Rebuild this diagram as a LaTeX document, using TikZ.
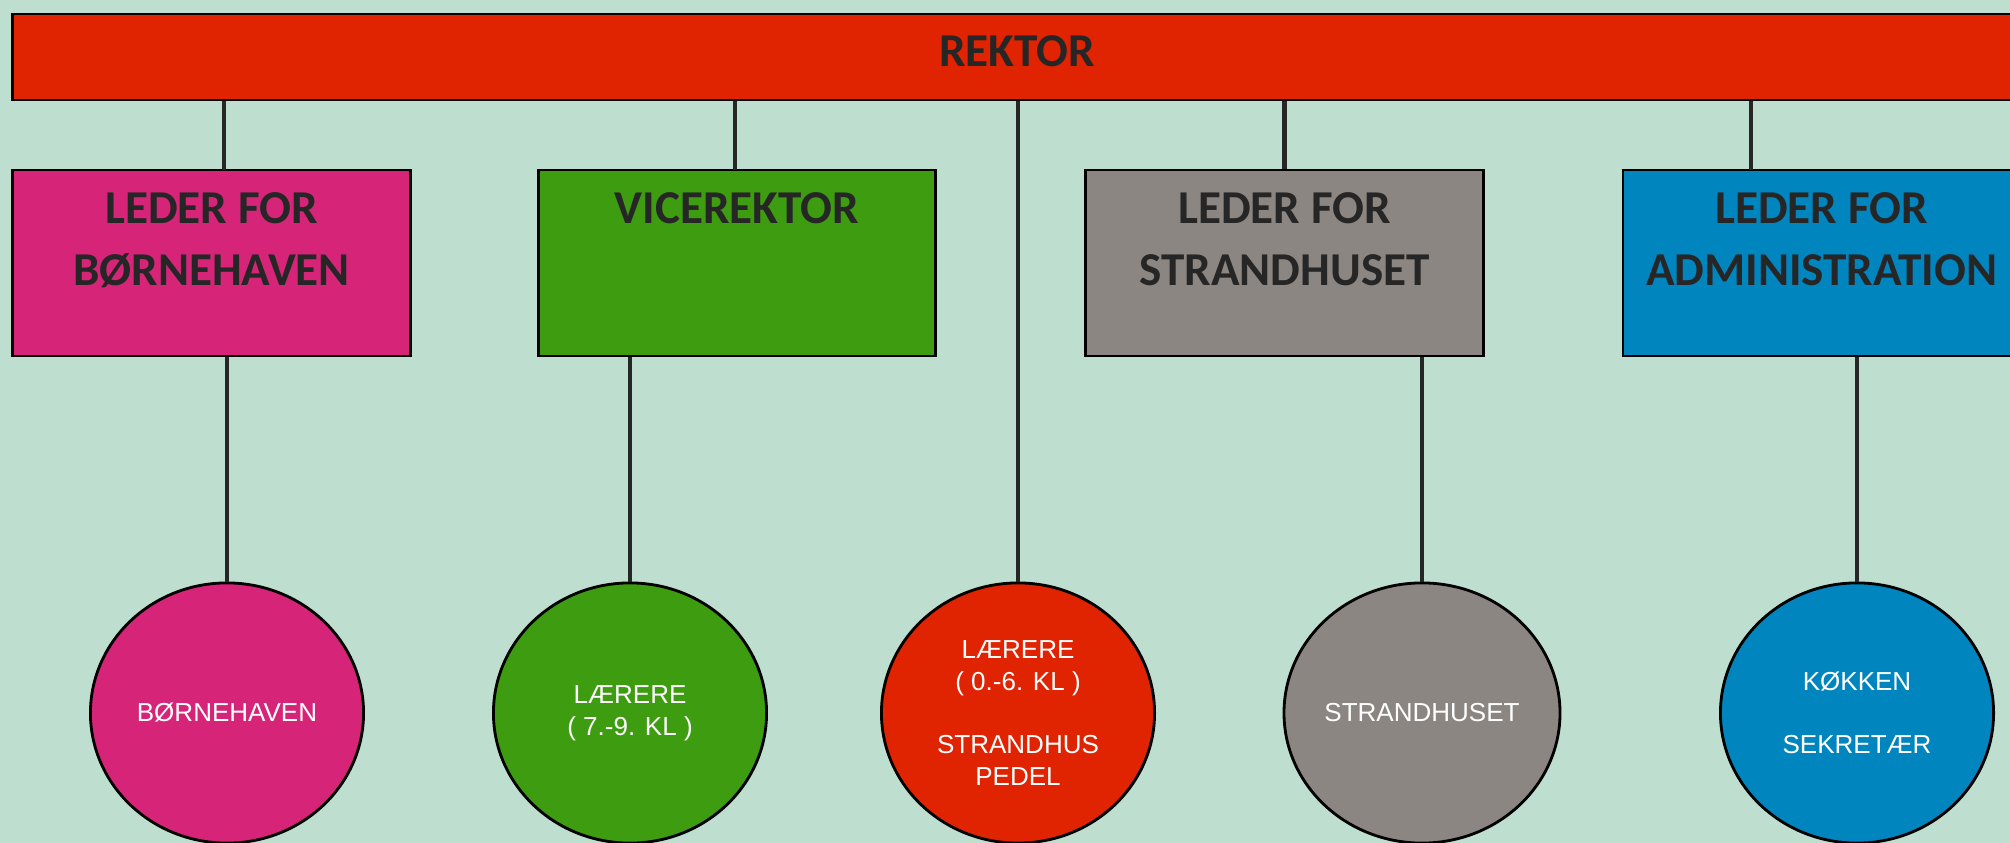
\documentclass[tikz,border=0pt]{standalone}
\usepackage{fontspec}
\setmainfont{Liberation Sans}
\newfontfamily\titlefont{Carlito}
\usetikzlibrary{shapes.geometric}

\definecolor{bgmint}{HTML}{BEDFD0}
\definecolor{rektorred}{HTML}{E02300}
\definecolor{bhpink}{HTML}{D62579}
\definecolor{vicegreen}{HTML}{3E9C10}
\definecolor{strandgray}{HTML}{8B8681}
\definecolor{adminblue}{HTML}{0085BF}
\definecolor{darktext}{HTML}{262626}

\begin{document}
\begin{tikzpicture}[x=0.01cm,y=-0.01cm]
   \tikzstyle{title}=[font=\titlefont\bfseries\fontsize{13.4}{17.6}\selectfont, text=darktext, align=center, inner sep=0pt]
   \tikzstyle{leader}=[draw=black, line width=0.8pt, minimum width=3.97cm, minimum height=1.86cm, inner sep=0pt]
   \tikzstyle{unit}=[draw=black, line width=0.8pt, ellipse, minimum width=2.73cm, minimum height=2.6cm, inner sep=0pt, text=white, font=\fontsize{7.4}{9}\selectfont, align=center]
   \tikzstyle{link}=[draw=darktext, line width=1.4pt]

\useasboundingbox (0,0) rectangle (2010,843);
\fill[bgmint] (0,0) rectangle (2010,843);
\clip (0,0) rectangle (2010,843);

% top bar
\node[draw=black, line width=0.8pt, fill=rektorred, minimum width=20.08cm, minimum height=0.86cm] (rektor) at (1017,57) {};
\node[title] (rektortxt) at (1017,51) {REKTOR};

% leaders
\node[leader, fill=bhpink] (bhbox) at (211.5,263) {};
\node[leader, fill=vicegreen] (vicebox) at (737,263) {};
\node[leader, fill=strandgray] (strandbox) at (1284.5,263) {};
\node[leader, fill=adminblue] (adminbox) at (1821.5,263) {};

\node[title, anchor=north] (bhtitle) at ([yshift=-6.6pt]bhbox.north) {LEDER FOR\\BØRNEHAVEN};
\node[title, anchor=north] (vicetitle) at ([yshift=-6.6pt]vicebox.north) {VICEREKTOR};
\node[title, anchor=north] (strandtitle) at ([yshift=-6.6pt]strandbox.north) {LEDER FOR\\STRANDHUSET};
\node[title, anchor=north] (admintitle) at ([yshift=-6.6pt]adminbox.north) {LEDER FOR\\ADMINISTRATION};

% units
\node[unit, fill=bhpink] (bhunit) at (227,713) {BØRNEHAVEN};
\node[unit, fill=vicegreen] (viceunit) at (630,713) {LÆRERE\\( 7.-9. KL )};
\node[unit, fill=rektorred] (rektorunit) at (1018,713) {LÆRERE\\( 0.-6. KL )\\[9pt]STRANDHUS\\PEDEL};
\node[unit, fill=strandgray] (strandunit) at (1422,713) {STRANDHUSET};
\node[unit, fill=adminblue] (adminunit) at (1857,713) {KØKKEN\\[9pt]SEKRETÆR};

\coordinate (bhtop) at (224,170);
\coordinate (vicetop) at (735,170);
\coordinate (admintop) at (1751,170);

\draw[link] (rektor.south -| bhtop) -- (bhtop);
\draw[link] (rektor.south -| vicetop) -- (vicetop);
\draw[link] (rektor.south -| strandbox.north) -- (strandbox.north);
\draw[link] (rektor.south -| admintop) -- (admintop);
\draw[link] (rektor.south -| rektorunit.north) -- (rektorunit.north);

\draw[link] (bhbox.south -| bhunit.north) -- (bhunit.north);
\draw[link] (vicebox.south -| viceunit.north) -- (viceunit.north);
\draw[link] (strandbox.south -| strandunit.north) -- (strandunit.north);
\draw[link] (adminbox.south -| adminunit.north) -- (adminunit.north);

\end{tikzpicture}
\end{document}
